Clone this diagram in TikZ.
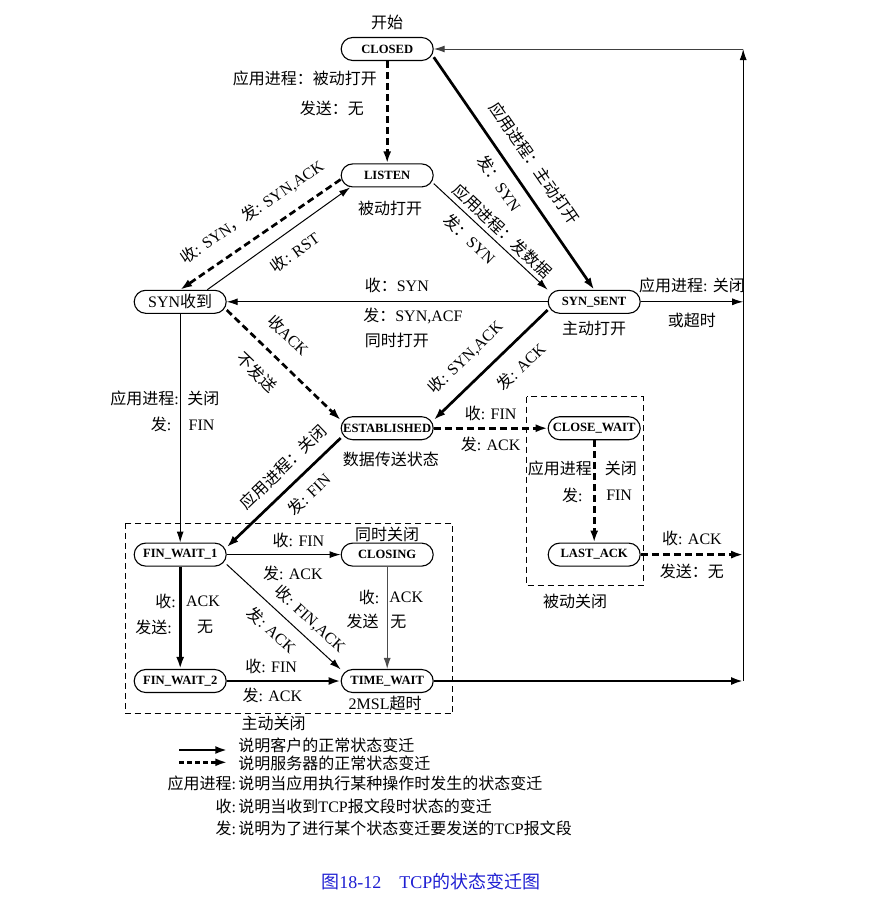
\documentclass[tikz,border=0pt]{standalone}
\usepackage{fontspec}
\setmainfont{Liberation Serif}
\newfontfamily\cjk{Noto Sans CJK SC}
\usetikzlibrary{arrows.meta}
\newcommand{\zh}[1]{{\cjk #1}}
\newcommand{\lblfont}{\fontsize{16}{19}\selectfont}
\newcommand{\statefont}{\fontsize{12.6}{14}\selectfont\bfseries}
\definecolor{capblue}{RGB}{30,30,210}
\begin{document}
\begin{tikzpicture}[node distance=126.4pt,>={Latex[length=11pt,width=7pt]},
    every node/.style={font=\lblfont,inner sep=1pt},
    tcpstate/.style={draw,line width=1.1pt,rounded corners=11.5pt,minimum width=92pt,minimum height=23pt,inner sep=1pt,font=\statefont},
    client/.style={-{Latex[length=12pt,width=8pt]},line width=2.7pt},
    server/.style={-{Latex[length=12pt,width=8pt]},line width=2.7pt,dash pattern=on 7pt off 4pt},
    thinarrow/.style={->,line width=1pt},
    boxline/.style={draw,line width=0.8pt,dash pattern=on 6pt off 4pt}]
      \useasboundingbox (-387.2pt,49pt) rectangle (503.8pt,-848pt);
      \node (closed) [tcpstate] {CLOSED};
      \node (listen) [tcpstate,below of=closed] {LISTEN};
      \node (synrcvd) [tcpstate,below of=listen,xshift=-207pt,font=\lblfont] {SYN\zh{收到}};
      \node (synsent) [tcpstate,below of=listen,xshift=207pt] {SYN\_SENT};
      \node (estab) [tcpstate,below of=synrcvd,xshift=207pt] {ESTABLISHED};
      \node (closewait) [tcpstate,below of=synsent] {CLOSE\_WAIT};
      \node (lastack) [tcpstate,below of=closewait] {LAST\_ACK};
      \node (finwait1) [tcpstate,below of=estab,xshift=-207pt] {FIN\_WAIT\_1};
      \node (closing) [tcpstate,below of=estab] {CLOSING};
      \node (finwait2) [tcpstate,below of=finwait1] {FIN\_WAIT\_2};
      \node (timewait) [tcpstate,below of=closing] {TIME\_WAIT};
      \node (start) [node distance=26.3pt,above of=closed] {\zh{开始}};
      \node (passive) [node distance=33pt,below of=listen,xshift=3pt] {\zh{被动打开}};
      \node (active) [node distance=26.6pt,below of=synsent] {\zh{主动打开}};
      \node (transfer) [node distance=30.8pt,below of=estab,xshift=3.6pt] {\zh{数据传送状态}};
      \node (simclose) [node distance=20.5pt,above of=closing] {\zh{同时关闭}};
      \node (msl) [node distance=22pt,below of=timewait,xshift=-2pt] {2MSL\zh{超时}};
      \node (activeclose) [node distance=42.5pt,below of=finwait2,xshift=93.5pt] {\zh{主动关闭}};
      \node (passiveclose) [node distance=47pt,below of=lastack,xshift=-19pt] {\zh{被动关闭}};
      \draw [boxline] ([xshift=-8.6pt,yshift=19.4pt]finwait1.north west) rectangle ([xshift=19pt,yshift=-20.6pt]timewait.south east);
      \draw [boxline] ([xshift=-21pt,yshift=19.5pt]closewait.north west) rectangle ([xshift=2.3pt,yshift=-19pt]lastack.south east);
      \coordinate (back) at (356pt,0);
      \coordinate (outsent) at (back |- synsent);
      \coordinate (outlast) at (back |- lastack);
      \coordinate (outtime) at (back |- timewait);
      \draw [server] (closed) -- (listen)
        node [left=8pt,pos=0.17] {\zh{应用进程：被动打开}}
        node [left=21pt,pos=0.46] {\zh{发送：无}};
      \draw [client] (closed.-10) -- (synsent.north)
        node [sloped,above=13pt,pos=0.51] {\zh{应用进程：主动打开}}
        node [sloped,below=8pt,pos=0.5] {\zh{发：}SYN};
      \draw [thinarrow] (listen.-10) -- (synsent.north west)
        node [sloped,above=3pt,pos=0.53] {\zh{应用进程：发数据}}
        node [sloped,below=7pt,pos=0.41] {\zh{发：}SYN};
      \draw [server] (listen.185) -- (synrcvd.north)
        node [sloped,above=13pt,pos=0.47] {\zh{收}: SYN\zh{，}\zh{发}: SYN,ACK};
      \draw [thinarrow] (synrcvd.24) -- (listen.198)
        node [sloped,below=11.5pt,pos=0.53] {\zh{收}: RST};
      \draw [thinarrow] (synsent) -- (synrcvd)
        node [above=8pt,pos=0.47] {\zh{收：}SYN}
        node [below=5pt,pos=0.42] {\zh{发：}SYN,ACF}
        node [below=30pt,pos=0.47] {\zh{同时打开}};
      \draw [server] (synrcvd.-10) -- (estab.170)
        node [sloped,above=15pt,pos=0.39] {\zh{收}ACK}
        node [sloped,below=14pt,pos=0.41] {\zh{不发送}};
      \draw [client] (synsent.190) -- (estab.10)
        node [sloped,above=13pt,pos=0.58] {\zh{收}: SYN,ACK}
        node [sloped,below=12.5pt,pos=0.37] {\zh{发}: ACK};
      \draw [thinarrow] (synrcvd) -- (finwait1)
        node [left=0pt,pos=0.37] {\zh{应用进程}:}
        node [right=5.7pt,pos=0.37] {\zh{关闭}}
        node [left=7.3pt,pos=0.485] {\zh{发}:}
        node [right=7pt,pos=0.485] {FIN};
      \draw [thinarrow] (synsent) -- (outsent)
        node [above=7.7pt,midway] {\zh{应用进程}: \zh{关闭}}
        node [below=9.3pt,midway] {\zh{或超时}};
      \draw [server] (estab) -- (closewait)
        node [above=5.5pt,midway] {\zh{收}: FIN}
        node [below=6.5pt,midway] {\zh{发}: ACK};
      \draw [client] (estab.192) -- (finwait1.9)
        node [sloped,above=9pt,pos=0.39] {\zh{应用进程：关闭}}
        node [sloped,below=8.6pt,pos=0.39] {\zh{发}: FIN};
      \draw [server] (closewait) -- (lastack)
        node [left=0pt,pos=0.28] {\zh{应用进程}}
        node [right=8.4pt,pos=0.28] {\zh{关闭}}
        node [left=9.3pt,pos=0.54] {\zh{发}:}
        node [right=9.7pt,pos=0.54] {FIN};
      \draw [server] (lastack) -- (outlast)
        node [above=6.7pt,midway] {\zh{收}: ACK}
        node [below=7pt,midway] {\zh{发送：无}};
      \draw [thinarrow] (finwait1) -- (closing)
        node [above=5pt,pos=0.63] {\zh{收}: FIN}
        node [below=9.7pt,pos=0.58] {\zh{发}: ACK};
      \draw [client] (finwait1) -- (finwait2)
        node [left=2pt,pos=0.34] {\zh{收}:}
        node [right=3.5pt,pos=0.34] {ACK}
        node [left=6pt,pos=0.59] {\zh{发送}:}
        node [right=14.5pt,pos=0.59] {\zh{无}};
      \draw [thinarrow] (finwait1.-12) -- (timewait.166)
        node [sloped,above=7pt,pos=0.635] {\zh{收}: FIN,ACK}
        node [sloped,below=8.7pt,pos=0.5] {\zh{发}: ACK};
      \draw [thinarrow,draw=black!70] (closing) -- (timewait)
        node [left=6.3pt,pos=0.3] {\zh{收}:}
        node [right=0.7pt,pos=0.3] {ACK}
        node [left=7pt,pos=0.54] {\zh{发送}}
        node [right=1.7pt,pos=0.54] {\zh{无}};
      \draw [client] (finwait2) -- (timewait)
        node [above=5pt,pos=0.39] {\zh{收}: FIN}
        node [below=5pt,pos=0.4] {\zh{发}: ACK};
      \draw [client] (timewait) -- (outtime);
      \draw [thinarrow] (outtime) -- (back);
      \draw [thinarrow,draw=black!75] (back) -- (closed);
      % legend
      \coordinate (lgA) at (-207.9pt,-701pt);
      \coordinate (lgB) at (-159.9pt,-701pt);
      \coordinate (lgC) at (-207.9pt,-713.3pt);
      \coordinate (lgD) at (-159.9pt,-713.3pt);
      \draw [client] (lgA) -- (lgB);
      \draw [server,dash pattern=on 5pt off 3pt] (lgC) -- (lgD);
      \node (lg1) [anchor=west] at (-149.9pt,-696pt) {\zh{说明客户的正常状态变迁}};
      \node (lg2) [anchor=west] at (-149.9pt,-714.3pt) {\zh{说明服务器的正常状态变迁}};
      \node (lg3) [anchor=west] at (-149.9pt,-734.3pt) {\zh{说明当应用执行某种操作时发生的状态变迁}};
      \node (lg4) [anchor=west] at (-149.9pt,-757pt) {\zh{说明当收到}TCP\zh{报文段时状态的变迁}};
      \node (lg5) [anchor=west] at (-149.9pt,-779.3pt) {\zh{说明为了进行某个状态变迁要发送的}TCP\zh{报文段}};
      \node (key3) [anchor=east] at (-149.9pt,-734.3pt) {\zh{应用进程}:};
      \node (key4) [anchor=east] at (-149.9pt,-757pt) {\zh{收}:};
      \node (key5) [anchor=east] at (-149.9pt,-779.3pt) {\zh{发}:};
      \node (caption) [text=capblue,font=\fontsize{18}{21}\selectfont] at (43.6pt,-832.7pt) {\zh{图}18-12\quad TCP\zh{的状态变迁图}};
  \end{tikzpicture}
\end{document}
